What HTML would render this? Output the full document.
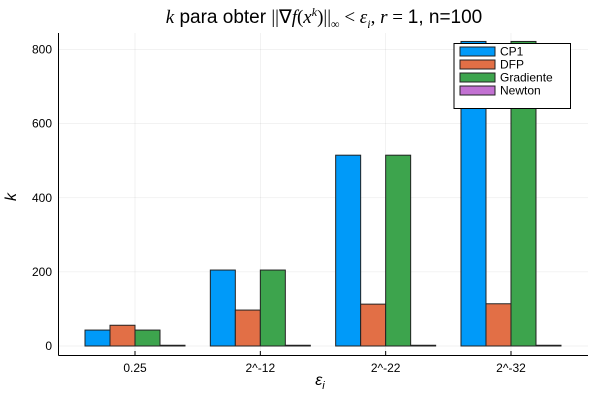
<!DOCTYPE html>
<html><head><meta charset="utf-8"><style>
body{margin:0;background:#fff;font-family:"Liberation Sans",sans-serif;}
svg text{font-family:"Liberation Sans",sans-serif;}
</style></head><body>
<svg id="chart" width="600" height="400">
<text x="324" y="23" text-anchor="middle" font-size="19" fill="#000"><tspan font-family="Liberation Serif" font-style="italic">k</tspan> para obter <tspan font-family="Liberation Serif">||∇<tspan font-style="italic">f</tspan>(<tspan font-style="italic">x</tspan><tspan font-size="12" dy="-7" font-style="italic">k</tspan><tspan dy="7">)||</tspan><tspan font-size="12" dy="5">∞</tspan><tspan dy="-5"> &lt; </tspan><tspan font-style="italic">ε</tspan><tspan font-size="12" dy="5" font-style="italic">i</tspan><tspan dy="-5">,  </tspan><tspan font-style="italic">r</tspan> = </tspan>1, n=100</text>
<g id="grid"></g>
<g id="bars"></g>
<line x1="58.5" y1="33" x2="58.5" y2="355.5" stroke="#000"/>
<line x1="58.5" y1="355.5" x2="588" y2="355.5" stroke="#000"/>
<g id="ticks"></g>
<text x="16" y="197" font-size="16" font-style="italic" font-family="Liberation Serif" text-anchor="middle" transform="rotate(-90 16 197)">k</text>
<text x="320" y="385" font-size="16" font-style="italic" font-family="Liberation Serif" text-anchor="middle">ε<tspan font-size="11" dy="4">i</tspan></text>
<g>
<rect x="454" y="43.5" width="116.5" height="65" fill="#fff" stroke="#000" stroke-width="1"/>
<g id="legend"></g>
</g>
</svg>
<script>
const categories=["0.25","2^-12","2^-22","2^-32"];
const seriesNames=["CP1","DFP","Gradiente","Newton"];
const cp1=[43,205,515,822];
const dfp=[56,97,113,114];
const gradiente=[43,205,515,822];
const newton=[2,2,2,2];
const yTicks=[0,200,400,600,800];
const colors=["#009af9","#e26f46","#3da44d","#c271d2"];
const allSeries=[cp1,dfp,gradiente,newton];
const NS="http://www.w3.org/2000/svg";
function y(v){return 346-v*0.3705;}
function xc(i){return 135+i*125.33;}
function mk(t,a,p){const e=document.createElementNS(NS,t);for(const k in a)e.setAttribute(k,a[k]);p.appendChild(e);return e;}
const grid=document.getElementById('grid'),ticks=document.getElementById('ticks'),bars=document.getElementById('bars'),leg=document.getElementById('legend');
yTicks.forEach(t=>{
 const l=mk('line',{x1:58.5,x2:588,y1:y(t),y2:y(t),stroke:'#000','stroke-opacity':0.1,'stroke-width':0.5},grid);
 
 
 const tx=mk('text',{x:52,y:y(t)+4,'text-anchor':'end','font-size':12,fill:'#000'},ticks);
 tx.textContent=t;
 
 
});
categories.forEach((c,i)=>{
 const l=mk('line',{x1:xc(i),x2:xc(i),y1:33,y2:355.5,stroke:'#000','stroke-opacity':0.1,'stroke-width':0.5},grid);
 
 
 const tk=mk('line',{x1:xc(i),x2:xc(i),y1:355.5,y2:351,stroke:'#000'},ticks);
 
 
 const tx=mk('text',{x:xc(i),y:372,'text-anchor':'middle','font-size':12,fill:'#000'},ticks);
 tx.textContent=c;
 
 
});
allSeries.forEach((s,j)=>{
 s.forEach((v,i)=>{
  const x0=xc(i)-50+j*25;
  const r=mk('rect',{x:x0,y:y(v),width:25,height:y(0)-y(v),fill:colors[j],stroke:'#222','stroke-width':1},bars);
  
  
 });
});
seriesNames.forEach((n,j)=>{
 const yy=51+j*13;
 const r=mk('rect',{x:460,y:yy-4,width:35,height:9,fill:colors[j],stroke:'#222','stroke-width':1},leg);
 
 
 const t=mk('text',{x:500,y:yy+4.5,'font-size':12,fill:'#000'},leg);
 t.textContent=n;
 
 
});
</script>
</body></html>
